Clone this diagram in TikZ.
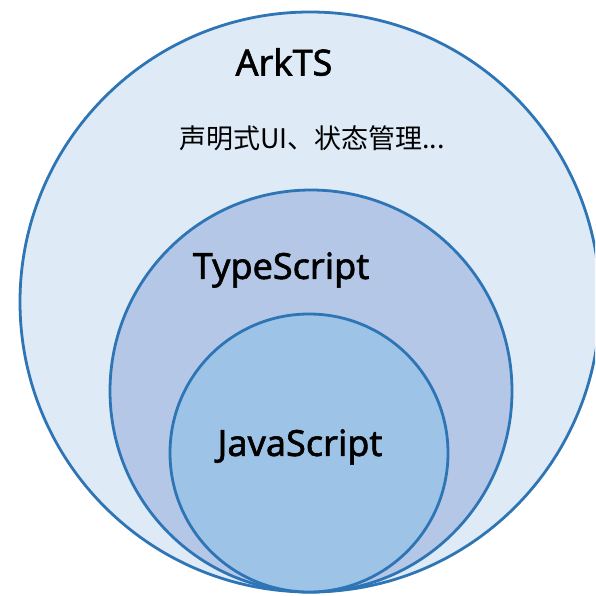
\documentclass[tikz,border=0pt]{standalone}
\usepackage{fontspec}
\setmainfont{Noto Sans}
\newfontfamily\titlefont{Noto Sans}[FakeBold=1.6]
\newfontfamily\cjkfont{Noto Sans CJK SC}

\definecolor{ringline}{HTML}{2E75B6}
\definecolor{arkfill}{HTML}{DEEAF6}
\definecolor{tsfill}{HTML}{B4C7E7}
\definecolor{jsfill}{HTML}{9DC3E6}

\tikzset{
    ring/.style={draw=ringline, line width=2.8pt},
    title/.style={font=\titlefont\fontsize{36}{40}\selectfont, text=black},
    note/.style={font=\cjkfont\fontsize{27}{31}\selectfont, text=black}
}

\begin{document}
\begin{tikzpicture}[x=1pt, y=-1pt]
        \useasboundingbox (0,0) rectangle (595,596);
        \clip (0,0) rectangle (595,596);

        % Nested circles
        \filldraw[ring, fill=arkfill] (310,302) circle (290);
        \filldraw[ring, fill=tsfill] (311,391) circle (201);
        \filldraw[ring, fill=jsfill] (309,453) circle (139);

        % Labels
        \node[title] (ark) at (284,62) {ArkTS};
        \node[note] (feat) at (312,138) {声明式UI、状态管理...};
        \node[title] (ts) at (281,270) {TypeScript};
        \node[title] (js) at (300,447) {JavaScript};
    \end{tikzpicture}
\end{document}
